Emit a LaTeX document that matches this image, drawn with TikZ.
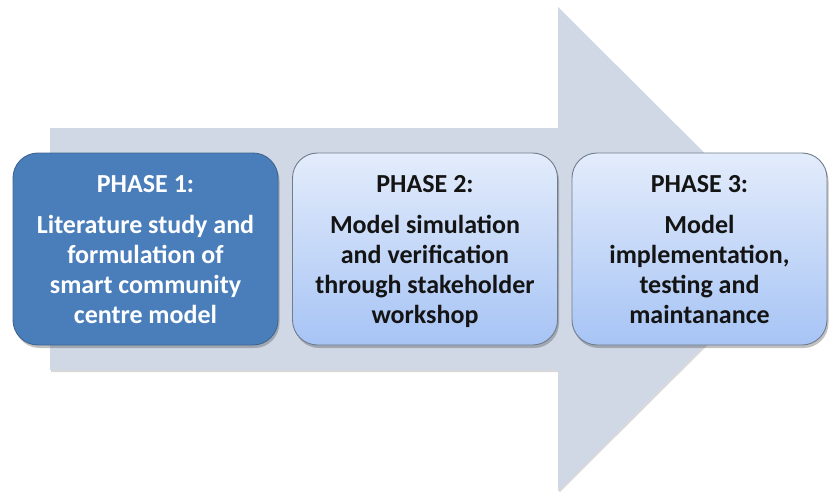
\documentclass[tikz,border=0pt]{standalone}
\usepackage{fontspec}
\setmainfont{Carlito}
\usetikzlibrary{shadows}
\definecolor{arrowfill}{HTML}{D0D8E6}
\definecolor{boxone}{HTML}{4A7EBB}
\definecolor{boxoneline}{HTML}{3E6591}
\definecolor{boxtop}{HTML}{E3ECFB}
\definecolor{boxbot}{HTML}{A7C4F5}
\definecolor{boxline}{HTML}{6F7C8C}
\definecolor{txtdark}{HTML}{141414}
\begin{document}
\begin{tikzpicture}[x=1pt,y=-1pt,
  boxshadow/.style={drop shadow={shadow xshift=1.5pt,shadow yshift=-3pt,opacity=0.35,fill=black!70}},
  phasebox/.style={rectangle,rounded corners=25pt,minimum width=265pt,minimum height=192pt,line width=0.9pt,boxshadow,inner sep=0pt},
  lightbox/.style={phasebox,draw=boxline,top color=boxtop,bottom color=boxbot},
  darkbox/.style={phasebox,draw=boxoneline,fill=boxone},
  phasetitle/.style={anchor=base,inner sep=0pt,font=\fontsize{26}{30}\selectfont\bfseries},
  phasebody/.style={anchor=base,inner sep=0pt,font=\fontsize{26}{30}\selectfont\bfseries}
]
\useasboundingbox (0,0) rectangle (829,492);
% big background arrow
\fill[arrowfill,drop shadow={shadow xshift=1pt,shadow yshift=-2pt,opacity=0.25,fill=black!60}]
  (50,128) -- (558,128) -- (558,7) -- (801,249) -- (558,491) -- (558,370) -- (50,370) -- cycle;
% boxes
\node[darkbox]  (b1) at (145.5,249) {};
\node[lightbox] (b2) at (425,249) {};
\node[lightbox, minimum width=255pt] (b3) at (699.5,249) {};
% texts
\node[phasetitle,text=white] (t1) at (145.5,192) {PHASE 1:};
\node[phasebody,text=white] (d1) at (145.5,233) {\begin{tabular}[t]{@{}c@{}}Literature study and\\formulation of\\smart community\\centre model\end{tabular}};
\node[phasetitle,text=txtdark] (t2) at (425,192) {PHASE 2:};
\node[phasebody,text=txtdark] (d2) at (425,233) {\begin{tabular}[t]{@{}c@{}}Model simulation\\and verification\\through stakeholder\\workshop\end{tabular}};
\node[phasetitle,text=txtdark] (t3) at (699.5,192) {PHASE 3:};
\node[phasebody,text=txtdark] (d3) at (699.5,233) {\begin{tabular}[t]{@{}c@{}}Model\\implementation,\\testing and\\maintanance\end{tabular}};
\end{tikzpicture}
\end{document}
